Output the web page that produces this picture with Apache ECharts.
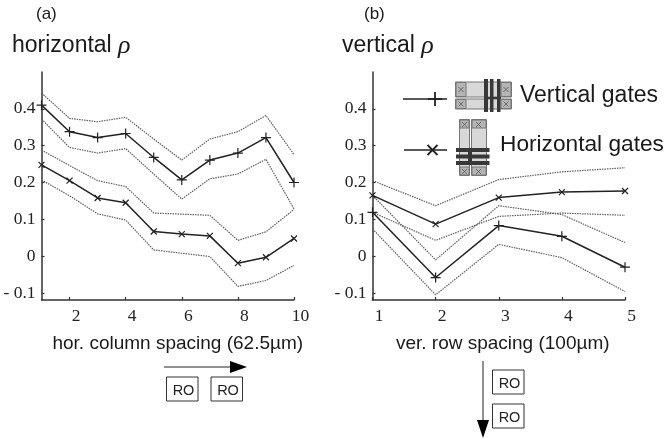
<!DOCTYPE html>
<html><head><meta charset="utf-8">
<style>html,body{margin:0;padding:0;background:#fff}#c{width:667px;height:438px}</style>
<script src="https://cdn.jsdelivr.net/npm/echarts@6/dist/echarts.min.js"></script>
</head><body><div id="c"></div>
<script>
const colsA = [1,2,3,4,5,6,7,8,9,10];
const colsB = [1,2,3,4,5];
const aVertMean  = [0.41,0.338,0.322,0.333,0.268,0.207,0.261,0.28,0.322,0.20];
const aVertHigh  = [0.443,0.374,0.365,0.377,0.318,0.261,0.318,0.338,0.382,0.276];
const aVertLow   = [0.372,0.295,0.28,0.292,0.223,0.155,0.21,0.223,0.263,0.128];
const aHorMean   = [0.248,0.205,0.158,0.145,0.067,0.06,0.055,-0.019,-0.003,0.048];
const aHorHigh   = [0.288,0.246,0.205,0.189,0.117,0.114,0.111,0.043,0.066,0.127];
const aHorLow    = [0.207,0.164,0.115,0.098,0.017,0.008,-0.001,-0.082,-0.066,-0.025];
const bVertMean  = [0.119,-0.058,0.083,0.054,-0.03];
const bVertHigh  = [0.165,-0.01,0.137,0.113,0.037];
const bVertLow   = [0.074,-0.105,0.032,-0.004,-0.096];
const bHorMean   = [0.165,0.087,0.159,0.174,0.177];
const bHorHigh   = [0.205,0.137,0.208,0.229,0.24];
const bHorLow    = [0.119,0.043,0.108,0.117,0.111];
const yTicks = [-0.1,0,0.1,0.2,0.3,0.4];
const xTicksA = [2,4,6,8,10];
const xTicksB = [1,2,3,4,5];
const PLUS = 'path://M0 5H10M5 0V10';
const CROSS = 'path://M0 0L10 10M0 10L10 0';
const dark = '#222', grey = '#5e5e5e', sans = '"Liberation Sans"', serif = '"Liberation Serif"';

const zip = (xs, ys) => xs.map((x, i) => [x, ys[i]]);
const band = (i, xs, ys) => ({type:'line', xAxisIndex:i, yAxisIndex:i, data:zip(xs,ys), showSymbol:false, silent:true, clip:false,
  lineStyle:{color:grey, width:1.2, type:[1.5,1]}});
const mean = (i, xs, ys, sym, size) => ({type:'line', xAxisIndex:i, yAxisIndex:i, data:zip(xs,ys), symbol:sym, symbolSize:size, showSymbol:true, showAllSymbol:true, clip:false,
  lineStyle:{color:dark, width:1.5}, itemStyle:{color:'none', borderColor:dark, borderWidth:1.2}});

const xAx = (i, min, max, ticks, name, namePad) => ({type:'value', gridIndex:i, min, max, name, nameLocation:'middle', nameGap:34,
  nameTextStyle:{fontFamily:sans, fontSize:19, color:'#1a1a1a', padding:[0,0,0,namePad]},
  splitLine:{show:false}, axisLine:{onZero:false, lineStyle:{color:'#333', width:1.5}},
  axisTick:{inside:true, length:3, customValues:ticks, lineStyle:{color:'#333', width:1.2}},
  axisLabel:{customValues:ticks, margin:7, padding:[0,0,0,13], fontFamily:serif, fontSize:17.5, color:'#222', showMinLabel:true, showMaxLabel:true, hideOverlap:false}});
const yAx = i => ({type:'value', gridIndex:i, min:-0.119, max:0.5, splitLine:{show:false},
  axisLine:{onZero:false, lineStyle:{color:'#333', width:1.5}},
  axisTick:{inside:true, length:3, customValues:yTicks, lineStyle:{color:'#333', width:1.2}},
  axisLabel:{customValues:yTicks, margin:6, padding:[4,0,0,0], fontFamily:serif, fontSize:17.5, color:'#222', hideOverlap:false,
    formatter:v => { const r = Math.round(v*10)/10; return r < 0 ? '- ' + Math.abs(r) : String(r); }}});

const T = (x, y, text, size, fam) => ({type:'text', x, y, style:{text, fontFamily:fam||sans, fontSize:size, fill:'#1a1a1a', textVerticalAlign:'middle'}});
const R = (x, y, w, h, fill, stroke) => ({type:'rect', shape:{x,y,width:w,height:h}, style:{fill, stroke:stroke||null, lineWidth:stroke?1:0}});
const L = (x1, y1, x2, y2, w, c) => ({type:'line', shape:{x1,y1,x2,y2}, style:{stroke:c||dark, lineWidth:w}});
const P = pts => ({type:'polygon', shape:{points:pts}, style:{fill:'#000'}});
const box = (x, y) => [R(x, y, 31.5, 24, '#fff', '#333'), {type:'text', x:x+17, y:y+14, style:{text:'RO', fontFamily:sans, fontSize:14.5, fill:'#222', textAlign:'center', textVerticalAlign:'middle'}}];
const xmark = (x, y) => { const c = '#555'; return [L(x+1,y+1,x+6,y+6,0.8,c), L(x+6,y+1,x+1,y+6,0.8,c)]; };

const vIcon = [
  R(455.5,82,56,15,'#d8d8d8','#777'), R(455.5,99,56,10,'#d8d8d8','#777'),
  R(456,82.5,10,14,'#b5b5b5','#777'), R(501,82.5,10,14,'#b5b5b5','#777'),
  R(456,99.5,10,9,'#b5b5b5','#777'), R(501,99.5,10,9,'#b5b5b5','#777'),
  ...xmark(457.5,86), ...xmark(502.5,86), ...xmark(457.5,100.5), ...xmark(502.5,100.5),
  R(484,79,4,33,'#383838'), R(490,79,3.5,33,'#383838'), R(497,79,3.5,33,'#383838'),
  R(484,97,17,2,'#383838')
];
const hIcon = [
  R(459.5,119.5,10,56,'#d8d8d8','#777'), R(471.5,119.5,15,56,'#d8d8d8','#777'),
  R(460,120,9,8,'#b5b5b5','#777'), R(472,120,14,8,'#b5b5b5','#777'),
  R(460,167,9,8,'#b5b5b5','#777'), R(472,167,14,8,'#b5b5b5','#777'),
  ...xmark(461,121), ...xmark(475,121), ...xmark(461,168), ...xmark(475,168),
  R(456,148,33.5,4,'#383838'), R(456,154.5,33.5,4,'#383838'), R(456,161,33.5,4,'#383838'),
  R(468,148,4,17,'#383838')
];

const chart = echarts.init(document.getElementById('c'), null, {renderer:'canvas'});
chart.setOption({
  animation:false, backgroundColor:'#fff',
  title:[
    {text:'horizontal {r|ρ}', left:7, top:28, textStyle:{fontFamily:sans, fontSize:23, fontWeight:'normal', color:'#1a1a1a', rich:{r:{fontFamily:serif, fontStyle:'italic', fontSize:26, color:'#1a1a1a'}}}},
    {text:'vertical {r|ρ}', left:337, top:28, textStyle:{fontFamily:sans, fontSize:23, fontWeight:'normal', color:'#1a1a1a', rich:{r:{fontFamily:serif, fontStyle:'italic', fontSize:26, color:'#1a1a1a'}}}}
  ],
  grid:[
    {left:41.5, top:72, width:252.5, height:228},
    {left:372.5, top:72, width:252.5, height:228}
  ],
  xAxis:[ xAx(0,1,10,xTicksA,'hor. column spacing (62.5µm)',20), xAx(1,1,5,xTicksB,'ver. row spacing (100µm)',8) ],
  yAxis:[ yAx(0), yAx(1) ],
  series:[
    band(0,colsA,aVertHigh), band(0,colsA,aVertLow), band(0,colsA,aHorHigh), band(0,colsA,aHorLow),
    mean(0,colsA,aVertMean,PLUS,10), mean(0,colsA,aHorMean,CROSS,6),
    band(1,colsB,bVertHigh), band(1,colsB,bVertLow), band(1,colsB,bHorHigh), band(1,colsB,bHorLow),
    mean(1,colsB,bVertMean,PLUS,10), mean(1,colsB,bHorMean,CROSS,6)
  ],
  graphic:{elements:[
    T(36,14,'(a)',17), T(364,14,'(b)',17),
    L(403,99,447,99,1.5), L(435,92,435,106,1.8), L(428,99,442,99,1.8),
    L(404,150,447,150,1.5), L(427.5,145,437.5,155,1.8), L(437.5,145,427.5,155,1.8),
    ...vIcon, ...hIcon,
    T(520,96,'Vertical gates',23), T(500,145,'Horizontal gates',22.7),
    L(164,367,232,367,1,'#222'), P([[230,361],[247,367],[230,373]]),
    ...box(166.5,377), ...box(211,377),
    L(483,361,483,422,1,'#222'), P([[477,420],[489,420],[483,438]]),
    ...box(492.5,370), ...box(492.5,404)
  ]}
});
</script></body></html>
